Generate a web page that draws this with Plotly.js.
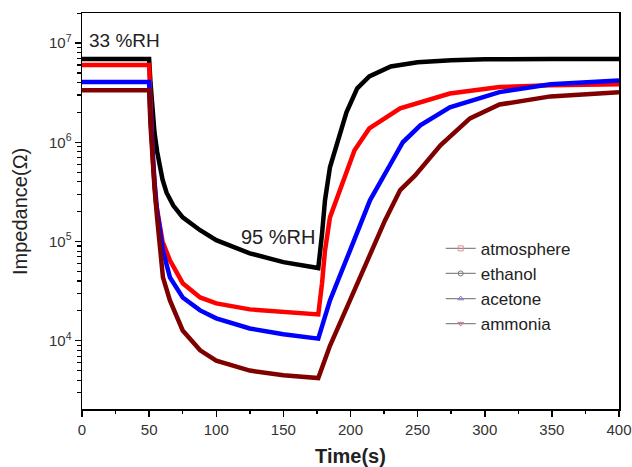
<!DOCTYPE html>
<html>
<head>
<meta charset="utf-8">
<script src="https://cdn.plot.ly/plotly-3.0.1.min.js"></script>
<style>html,body{margin:0;padding:0;background:#fff}#chart{width:632px;height:467px}</style>
</head>
<body>
<div id="chart"></div>
<script>
// Time (s) and impedance (ohm)
const tEthanol = [0, 50, 51, 52, 53, 54, 56, 58, 60, 63, 68, 75, 88, 100, 125, 150, 176, 178.8, 181, 184.7, 188.5, 192, 197, 205, 214, 230, 250, 275, 300, 350, 400];
const zEthanol = [6.9e6, 6.9e6, 4e6, 2.5e6, 1.7e6, 1.25e6, 8e5, 5.5e5, 4.2e5, 3.1e5, 2.3e5, 1.75e5, 1.3e5, 1.03e5, 7.6e4, 6.2e4, 5.4e4, 1.2e5, 2.6e5, 5.6e5, 8.3e5, 1.1e6, 2.0e6, 3.5e6, 4.6e6, 5.8e6, 6.4e6, 6.7e6, 6.85e6, 6.9e6, 6.9e6];

const tAtmos = [0, 50, 51, 52, 53, 55, 58, 60, 65.5, 75, 88, 100, 125, 150, 176, 178.8, 181, 184.7, 192, 197, 203, 214, 237, 274, 311, 349, 400];
const zAtmos = [6.0e6, 6.0e6, 2.5e6, 1.2e6, 6e5, 2.5e5, 1.3e5, 1.0e5, 6.45e4, 3.8e4, 2.73e4, 2.38e4, 2.07e4, 1.93e4, 1.84e4, 3.8e4, 8.1e4, 1.75e5, 3.3e5, 5.2e5, 8.3e5, 1.38e6, 2.2e6, 3.1e6, 3.6e6, 3.76e6, 3.85e6];

const tAcetone = [0, 50, 51, 52, 54, 56, 60.3, 65.5, 75, 88, 100, 125, 150, 176, 184.7, 199.6, 214.5, 229.4, 239, 252, 274, 311, 349, 400];
const zAcetone = [4.05e6, 4.05e6, 1.8e6, 9e5, 4e5, 2e5, 8.1e4, 4.35e4, 2.73e4, 2.02e4, 1.68e4, 1.33e4, 1.16e4, 1.05e4, 2.55e4, 8.1e4, 2.6e5, 5.9e5, 1.0e6, 1.48e6, 2.25e6, 3.2e6, 3.85e6, 4.2e6];

const tAmmonia = [0, 50, 51, 52, 54, 55.9, 60.3, 65.5, 75, 88, 100, 125, 150, 176, 184.7, 199.6, 214.5, 225.7, 237, 248, 267, 289, 311, 349, 400];
const zAmmonia = [3.34e6, 3.34e6, 1.5e6, 8e5, 3.5e5, 1.75e5, 4.35e4, 2.55e4, 1.27e4, 8.0e3, 6.3e3, 5.0e3, 4.5e3, 4.2e3, 8.9e3, 2.55e4, 7.3e4, 1.63e5, 3.3e5, 4.6e5, 9.3e5, 1.74e6, 2.4e6, 2.9e6, 3.2e6];

const xTicks = [0, 50, 100, 150, 200, 250, 300, 350, 400];
const yTickVals = [1e4, 1e5, 1e6, 1e7];
const yTickText = ['10<sup>4</sup>', '10<sup>5</sup>', '10<sup>6</sup>', '10<sup>7</sup>'];
const seriesNames = ['atmosphere', 'ethanol', 'acetone', 'ammonia'];

const yMinor = [];
for (let e = 3; e <= 7; e++) for (let m = 2; m <= 9; m++) yMinor.push(m * Math.pow(10, e));

const FONT = 'Liberation Sans, Arial, Helvetica, sans-serif';

const dataSets = [
  {t: tEthanol, z: zEthanol, color: '#000000'},
  {t: tAtmos, z: zAtmos, color: '#ff0000'},
  {t: tAcetone, z: zAcetone, color: '#0000ff'},
  {t: tAmmonia, z: zAmmonia, color: '#800000'}
];

const traces = dataSets.map(d => ({
  x: d.t, y: d.z, type: 'scatter', mode: 'lines',
  line: {color: d.color, width: 4.5},
  showlegend: false, hoverinfo: 'skip'
}));

const legendStyles = [
  {symbol: 'square-open', color: '#e88a9a'},
  {symbol: 'circle-open', color: '#777777'},
  {symbol: 'triangle-up-open', color: '#7777dd'},
  {symbol: 'triangle-down-open', color: '#cc7a8a'}
];
seriesNames.forEach((n, i) => {
  traces.push({
    x: [null], y: [null], type: 'scatter', mode: 'lines+markers', name: n,
    line: {color: '#888888', width: 1.2},
    marker: {symbol: legendStyles[i].symbol, color: legendStyles[i].color, size: 5, line: {width: 1}}
  });
});

const layout = {
  width: 632, height: 467,
  margin: {l: 82, r: 13, t: 13, b: 58},
  paper_bgcolor: '#fff', plot_bgcolor: '#fff',
  font: {family: FONT, color: '#333'},
  xaxis: {
    range: [0, 400], tickvals: xTicks, ticks: 'outside', ticklen: 6, tickwidth: 1.5,
    tickcolor: '#000', showline: true, linecolor: '#000', linewidth: 1.5, mirror: true,
    showgrid: false, zeroline: false, tickfont: {size: 15, color: '#333'},
    minor: {dtick: 25, ticks: 'outside', ticklen: 3.5, tickwidth: 1.5, tickcolor: '#000', showgrid: false},
    title: {text: '<b>Time(s)</b>', font: {size: 20, color: '#222'}, standoff: 12}
  },
  yaxis: {
    type: 'log', range: [3.312, 7.3026], tickvals: yTickVals, ticktext: yTickText,
    ticks: 'outside', ticklen: 6, tickwidth: 1.5, tickcolor: '#000',
    showline: true, linecolor: '#000', linewidth: 1.5, mirror: true,
    showgrid: false, zeroline: false, tickfont: {size: 15, color: '#333'},
    minor: {tickmode: 'array', tickvals: yMinor, ticks: 'outside', ticklen: 3.5, tickwidth: 1.2, tickcolor: '#000', showgrid: false}
  },
  legend: {
    x: 0.668, y: 0.45, xanchor: 'left', yanchor: 'top',
    bgcolor: 'rgba(0,0,0,0)', font: {size: 17, color: '#222'},
    tracegroupgap: 0, itemwidth: 30
  },
  annotations: [
    {x: 3.5, y: Math.log10(1.07e7), xref: 'x', yref: 'y', text: '33 %RH', showarrow: false,
     xanchor: 'left', yanchor: 'middle', font: {size: 19, color: '#222'}},
    {x: 146, y: Math.log10(1.12e5), xref: 'x', yref: 'y', text: '95 %RH', showarrow: false,
     xanchor: 'center', yanchor: 'middle', font: {size: 20, color: '#222'}},
    {x: -0.1155, y: 0.5, xref: 'paper', yref: 'paper', text: 'Impedance(Ω)', textangle: -90,
     showarrow: false, xanchor: 'center', yanchor: 'middle', font: {size: 20, color: '#222'}}
  ],
  showlegend: true
};

Plotly.newPlot('chart', traces, layout, {staticPlot: true, displayModeBar: false});
</script>
</body>
</html>
